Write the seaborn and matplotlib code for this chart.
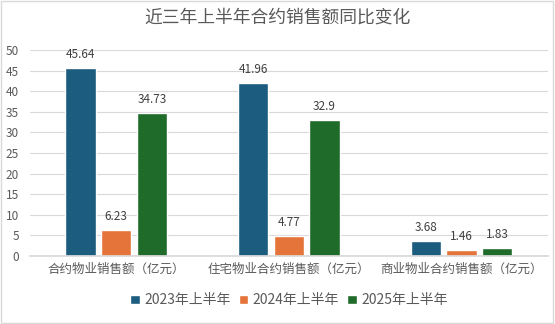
import matplotlib
matplotlib.use("Agg")
import matplotlib.pyplot as plt
import seaborn as sns
import pandas as pd
from matplotlib.patches import Rectangle

categories = ["合约物业销售额（亿元）", "住宅物业合约销售额（亿元）", "商业物业合约销售额（亿元）"]
series = ["2023年上半年", "2024年上半年", "2025年上半年"]
v2023 = [45.64, 41.96, 3.68]
v2024 = [6.23, 4.77, 1.46]
v2025 = [34.73, 32.9, 1.83]
colors = ["#1b5c7f", "#e5743a", "#1f6b2a"]

rows = []
for s, vals in zip(series, [v2023, v2024, v2025]):
    for c, v in zip(categories, vals):
        rows.append({"cat": c, "series": s, "value": v})
df = pd.DataFrame(rows)

sns.set_theme(style="white")
plt.rcParams['font.family'] = ['Noto Sans CJK SC', 'DejaVu Sans']

fig = plt.figure(figsize=(5.55, 3.24), dpi=100)
ax = fig.add_axes([0.054, 0.21, 0.933, 0.636])
sns.barplot(data=df, x="cat", y="value", hue="series", palette=colors,
            width=0.62, gap=0.15, ax=ax, legend=True, saturation=1)

ax.set_ylim(0, 50)
ax.set_yticks(range(0, 51, 5))
ax.yaxis.grid(True, color="#d9d9d9", linewidth=0.8)
ax.set_axisbelow(True)
for sp in ["left", "right", "top"]:
    ax.spines[sp].set_visible(False)
ax.spines["bottom"].set_color("#d9d9d9")
ax.tick_params(axis="both", length=0, colors="#595959", labelsize=8.5)
ax.tick_params(axis="x", labelsize=9, pad=5)
ax.tick_params(axis="y", pad=8)
ax.set_xlabel("")
ax.set_ylabel("")

for cont in ax.containers:
    labels = [("%g" % v) for v in cont.datavalues]
    ax.bar_label(cont, labels=labels, padding=5, fontsize=8.5, color="#404040")

h, l = ax.get_legend_handles_labels()
ax.legend(h, l, loc="center", bbox_to_anchor=(0.5, -0.215), ncol=3, frameon=False,
          fontsize=10, handlelength=0.7, handleheight=0.7, handletextpad=0.3,
          columnspacing=0.6, labelcolor="#595959")

fig.text(0.5, 0.945, "近三年上半年合约销售额同比变化", ha="center", va="center",
         fontsize=12.8, color="#595959")
fig.patches.append(Rectangle((0.002, 0.003), 0.995, 0.993, transform=fig.transFigure,
                             fill=False, edgecolor="#d9d9d9", linewidth=1))
fig.savefig("out.png", dpi=100)
